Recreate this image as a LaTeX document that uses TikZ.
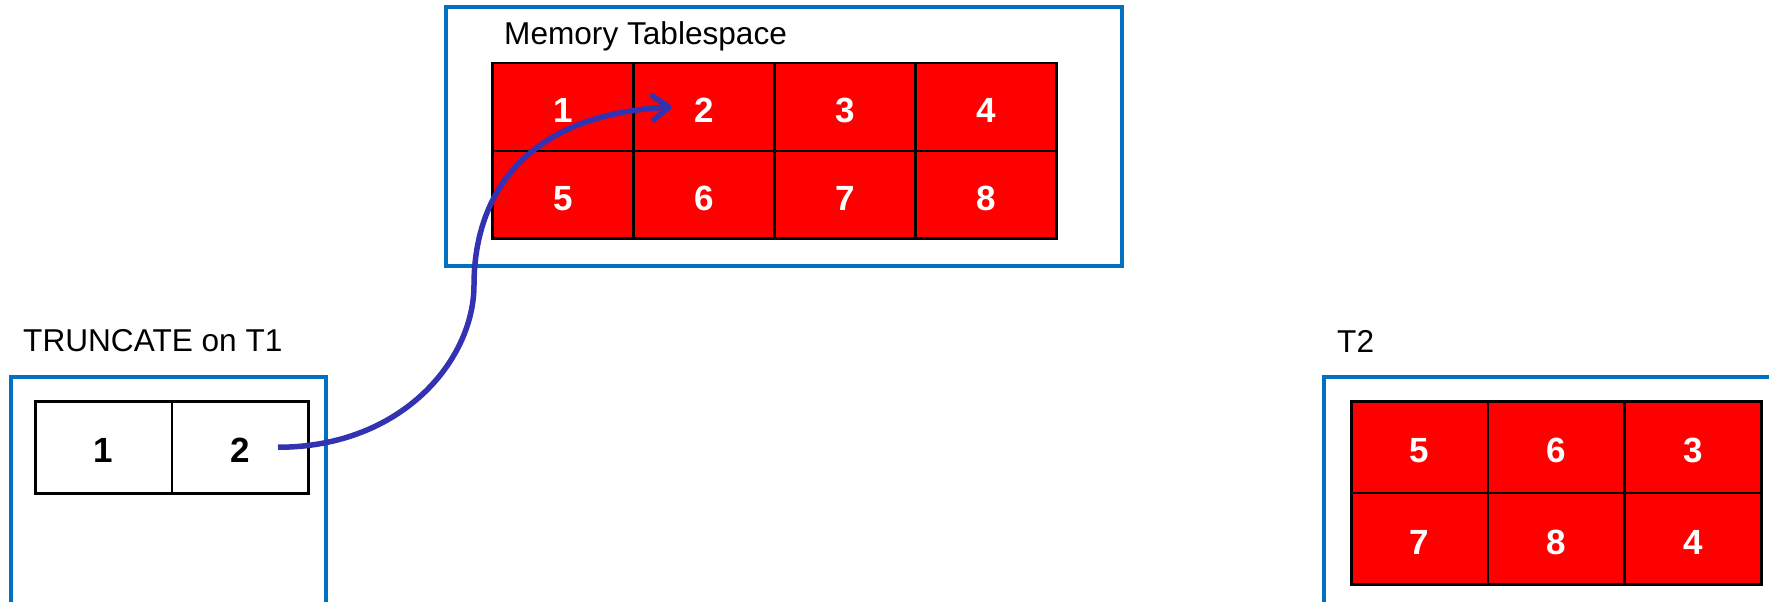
\documentclass[tikz,border=0pt]{standalone}
\usepackage{fontspec}
\setmainfont{Liberation Sans}
\usetikzlibrary{arrows.meta}
\definecolor{boxblue}{RGB}{0,112,192}
\definecolor{arrowblue}{RGB}{51,51,178}
\tikzset{
    tsframe/.style={draw=boxblue,line width=4.5pt},
    boxtitle/.style={anchor=west,inner sep=0pt,font=\fontsize{31.6}{31.6}\selectfont},
    cell/.style={draw=black,line width=2.5pt,inner sep=0pt,anchor=north west,
        text height=31pt,text depth=0pt,
        font=\fontsize{35}{35}\selectfont\bfseries},
    redcell/.style={cell,fill=red,text=white},
    pagemove/.style={draw=arrowblue,line width=5.5pt}
}
\begin{document}
\begin{tikzpicture}[x=1pt,y=-1pt,>={Straight Barb[length=16pt,width=24pt,round]}]
    \useasboundingbox (0,0) rectangle (1769,602);
    \clip (0,0) rectangle (1769,602);

    % containers
    \draw[tsframe] (446,7) rectangle (1122,266);
    \draw[tsframe] (11,377) rectangle (326,650);
    \draw[tsframe] (1324,377) rectangle (1800,650);

    \node[boxtitle] (memtitle) at (504,36) {Memory Tablespace};
    \node[boxtitle] (t1title) at (23,341) {TRUNCATE on T1};
    \node[boxtitle] (t2title) at (1337,341) {T2};

    % memory tablespace pages
    \foreach \n in {1,...,8} {
        \pgfmathtruncatemacro{\c}{mod(\n-1,4)}
        \pgfmathtruncatemacro{\r}{(\n-1)/4}
        \node[redcell,minimum width=141pt,minimum height=87.5pt]
            (m\n) at (491+141*\c,62+87.5*\r) {\n};
    }

    % T1
    \node[cell,minimum width=136.5pt,minimum height=92pt] (t1a) at (34,400) {1};
    \node[cell,minimum width=136.5pt,minimum height=92pt] (t1b) at (170.5,400) {2};

    % T2 reuses the freed pages
    \foreach \v [count=\i from 0] in {5,6,3,7,8,4} {
        \pgfmathtruncatemacro{\c}{mod(\i,3)}
        \pgfmathtruncatemacro{\r}{\i/3}
        \node[redcell,minimum width=136.7pt,minimum height=91.5pt]
            (t2\i) at (1350+136.7*\c,400+91.5*\r) {\v};
    }

    \coordinate (bend) at (474,285);
    \draw[pagemove,->] ([xshift=38pt]t1b.center)
        .. controls +(124,0) and (474,360) .. (bend)
        .. controls (474,200) and (520,115) .. ([xshift=-32pt]m2.center);
\end{tikzpicture}
\end{document}
